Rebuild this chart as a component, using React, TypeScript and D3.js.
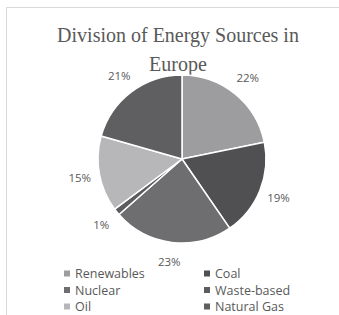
import React, { useEffect, useRef } from 'react'
import * as d3 from 'd3'

const categories = ['Renewables', 'Coal', 'Nuclear', 'Waste-based', 'Oil', 'Natural Gas']
const values = [21.8, 18.6, 23.1, 1.3, 14.6, 20.6]
const colors = ['#9d9da0', '#505053', '#6e6e71', '#5c5c5f', '#b7b7b9', '#5f5f62']
const titleLines = ['Division of Energy Sources in', 'Europe']

export default function App() {
  const ref = useRef<SVGSVGElement>(null)

  useEffect(() => {
    const width = 339, height = 315
    const svg = d3.select(ref.current)
    svg.selectAll('*').remove()
    svg.attr('width', width).attr('height', height)

    svg.append('rect')
      .attr('x', 0).attr('y', 0).attr('width', width).attr('height', height)
      .attr('fill', '#fff')
    // chart frame (only left/top edges visible in the crop)
    svg.append('rect')
      .attr('x', 6.5).attr('y', 7.5).attr('width', 400).attr('height', 400)
      .attr('fill', 'none').attr('stroke', '#d9d9d9')

    svg.append('g')
      .selectAll('text')
      .data(titleLines)
      .join('text')
      .attr('x', 178)
      .attr('y', (d, i) => 42 + i * 29)
      .attr('text-anchor', 'middle')
      .attr('font-family', 'Liberation Serif')
      .attr('font-size', 20)
      .attr('fill', '#595959')
      .text(d => d)

    const cx = 182, cy = 159, r = 84
    const pie = d3.pie<number>().sort(null).value(d => d)
    const arcs = pie(values)
    const total = d3.sum(values)
    const arc = d3.arc<d3.PieArcDatum<number>>().innerRadius(0).outerRadius(r)
    const labelArc = d3.arc<d3.PieArcDatum<number>>().innerRadius(104).outerRadius(104)

    const g = svg.append('g').attr('transform', `translate(${cx},${cy})`)
    g.selectAll('path')
      .data(arcs)
      .join('path')
      .attr('d', arc)
      .attr('fill', (d, i) => colors[i])
      .attr('stroke', '#fff')
      .attr('stroke-width', 1.5)
      .attr('stroke-linejoin', 'round')

    g.selectAll('text')
      .data(arcs)
      .join('text')
      .attr('transform', d => `translate(${labelArc.centroid(d)})`)
      .attr('text-anchor', 'middle')
      .attr('dy', '0.35em')
      .attr('font-family', 'Open Sans')
      .attr('font-size', 11.5)
      .attr('fill', '#595959')
      .text(d => Math.round(d.value / total * 100) + '%')

    // legend: two columns, three rows
    const legend = svg.append('g')
    const item = legend.selectAll('g')
      .data(categories)
      .join('g')
      .attr('transform', (d, i) => `translate(${i % 2 === 0 ? 64 : 204},${274 + Math.floor(i / 2) * 16.5})`)
    item.append('rect')
      .attr('x', 0).attr('y', -3.5).attr('width', 6).attr('height', 6)
      .attr('fill', (d, i) => colors[i])
    item.append('text')
      .attr('x', 11)
      .attr('dy', '0.35em')
      .attr('font-family', 'Open Sans')
      .attr('font-size', 12.5)
      .attr('fill', '#595959')
      .text(d => d)
  }, [])

  return <svg ref={ref} style={{ position: 'absolute', left: 0, top: 0 }}></svg>
}
